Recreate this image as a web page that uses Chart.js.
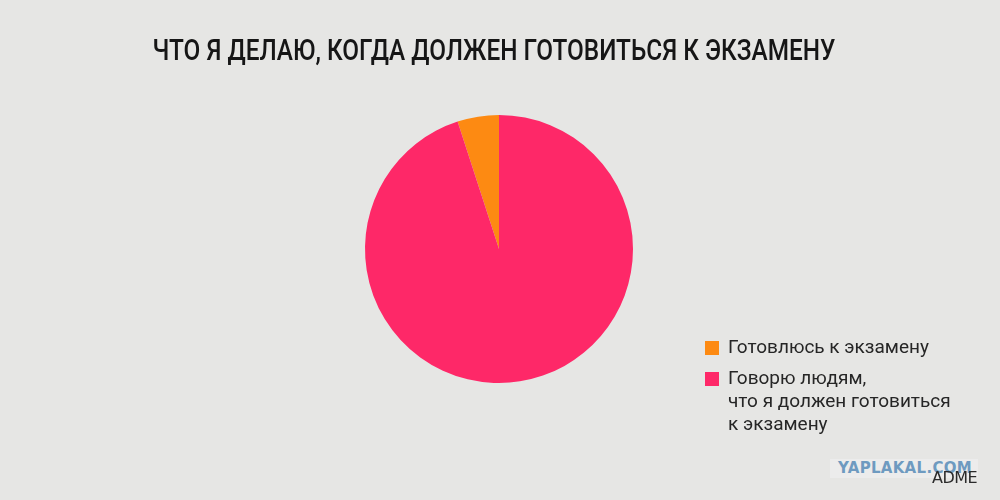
<!DOCTYPE html>
<html><head><meta charset="utf-8">
<script src="https://cdn.jsdelivr.net/npm/chart.js@4/dist/chart.umd.min.js"></script>
<style>
html,body{margin:0;padding:0;background:#e6e6e4;}
#wrap{position:relative;width:1000px;height:500px;overflow:hidden;background:#e6e6e4;}
#c{position:absolute;left:0;top:0;}
#title{position:absolute;left:0;width:988px;top:33px;text-align:center;font-family:Roboto,sans-serif;font-weight:500;font-size:29px;color:#161616;transform:scaleX(0.84);transform-origin:494px 0;white-space:nowrap;}
#legend{position:absolute;left:705px;top:335px;font-family:Roboto,'Noto Sans',sans-serif;font-size:19px;color:#262626;}
.item{position:relative;padding-left:23px;line-height:23px;margin-bottom:8px;}
.box{position:absolute;left:0;top:6px;width:14px;height:14px;}
#yap{position:absolute;left:830px;top:459px;width:148px;height:19px;background:#ececec;font-family:'DejaVu Sans',sans-serif;font-weight:bold;font-size:15px;color:#6e9ac0;line-height:19px;padding-left:8px;box-sizing:border-box;letter-spacing:0.3px;}
#adme{position:absolute;left:932px;top:468px;font-family:'DejaVu Sans',sans-serif;font-size:16px;color:#2a2a2a;letter-spacing:-0.5px;}
</style></head><body>
<div id="wrap">
<canvas id="c" width="1000" height="500"></canvas>
<div id="title"></div>
<div id="legend"></div>
<div id="yap">YAPLAKAL.COM</div>
<div id="adme">ADME</div>
</div>
<script>
const titleText = 'ЧТО Я ДЕЛАЮ, КОГДА ДОЛЖЕН ГОТОВИТЬСЯ К ЭКЗАМЕНУ';
const categories = ['Готовлюсь к экзамену', 'Говорю людям,\nчто я должен готовиться\nк экзамену'];
const values = [5, 95];
const colors = ['#fd8a12', '#fe2868'];

document.getElementById('title').textContent = titleText;
const leg = document.getElementById('legend');
categories.forEach((cat, i) => {
  const d = document.createElement('div'); d.className = 'item';
  const b = document.createElement('span'); b.className = 'box'; b.style.background = colors[i];
  d.appendChild(b);
  cat.split('\n').forEach((ln, j) => {
    if (j) d.appendChild(document.createElement('br'));
    d.appendChild(document.createTextNode(ln));
  });
  leg.appendChild(d);
});

new Chart(document.getElementById('c'), {
  type: 'pie',
  data: { labels: categories, datasets: [{ data: values, backgroundColor: colors, borderWidth: 0 }] },
  options: {
    responsive: false, animation: false,
    rotation: -values[0] / values.reduce((a, b) => a + b, 0) * 360,
    layout: { padding: { top: 115, bottom: 117, left: 0, right: 2 } },
    plugins: { legend: { display: false }, tooltip: { enabled: false }, title: { display: false } }
  }
});
</script>
</body></html>
